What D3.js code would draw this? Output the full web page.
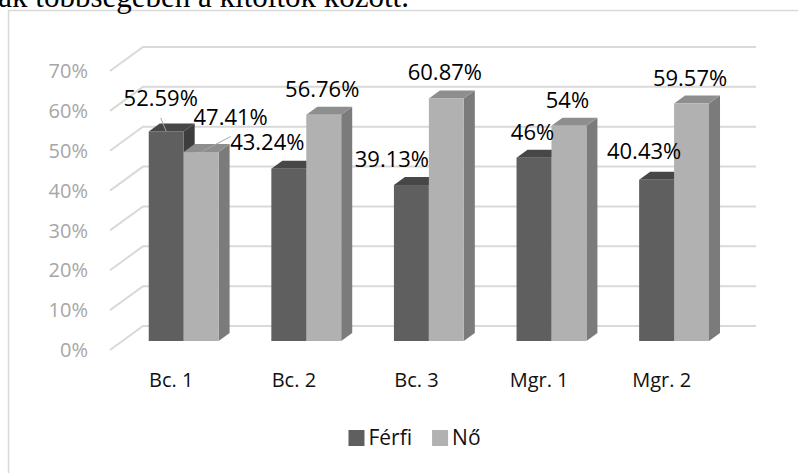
<!DOCTYPE html>
<html>
<head>
<meta charset="utf-8">
<script src="https://cdn.jsdelivr.net/npm/d3@7"></script>
<style>
    body { margin: 0; background: #fff; }
    svg { display: block; font-family: "Open Sans", sans-serif; }
</style>
</head>
<body>
<svg id="chart" width="798" height="473"></svg>
<script>
// ---- data ----
const categories = ["Bc. 1", "Bc. 2", "Bc. 3", "Mgr. 1", "Mgr. 2"];
const seriesNames = ["Férfi", "Nő"];
const ferfiValues = [52.59, 43.24, 39.13, 46, 40.43];
const noValues = [47.41, 56.76, 60.87, 54, 59.57];
const yTicks = [0, 10, 20, 30, 40, 50, 60, 70];
const captionText = "nak többségében a kitöltők között.";

// label nudges (dx, dy, leader line) so labels don't collide, like excel did
const ferfiLabelShift = [[-4, -7, true], [-20, -1], [-18, 0], [0, 0], [-11, -3]];
const noLabelShift = [[31, -9, true], [0, 0], [0, 0], [0, 0], [0, 0]];

const faceColors = {
    "Férfi": { front: "#5f5f5f", top: "#474747", side: "#3d3d3d" },
    "Nő": { front: "#b1b1b1", top: "#8e8e8e", side: "#7b7b7b" }
};

const svg = d3.select("#chart");

// 3d-ish geometry: back wall plus a floor going towards the viewer
const backLeft = 143, backRight = 756;
const floor = { dx: -33, dy: 24 };     // full depth of the floor
const barDepth = { dx: 11, dy: -8 };   // depth of a single bar
const barPos = 0.625;                  // where the bar front sits on the floor

const y = d3.scaleLinear().domain([0, 70]).range([326, 47]);

const x = d3.scaleBand()
    .domain(categories)
    .range([backLeft + floor.dx * barPos, backRight + floor.dx * barPos])
    .paddingInner(0.43)
    .paddingOuter(0.215);

const xs = d3.scaleBand().domain(seriesNames).range([0, x.bandwidth()]);

// outer frame of the chart area
svg.append("path")
    .attr("d", "M8.5,473 V10.5 H798")
    .attr("fill", "none")
    .attr("stroke", "#d9d9d9")
    .attr("stroke-width", 1.5);

// caption text of the page, cut off at the top
svg.append("text")
    .attr("x", 409)
    .attr("y", 7)
    .attr("text-anchor", "end")
    .style("font-family", "'Liberation Serif', serif")
    .style("font-size", "31px")
    .attr("fill", "#000")
    .text(captionText);

// gridlines: side wall diagonal + back wall line
svg.append("g").selectAll("path")
    .data(yTicks)
    .join("path")
    .attr("d", t => `M${backLeft + floor.dx},${y(t) + floor.dy} L${backLeft},${y(t)} L${backRight},${y(t)}`)
    .attr("fill", "none")
    .attr("stroke", "#d9d9d9")
    .attr("stroke-width", 2);

// y axis labels
svg.append("g").selectAll("text")
    .data(yTicks)
    .join("text")
    .attr("x", 88)
    .attr("y", t => y(t) + floor.dy)
    .attr("dy", "0.36em")
    .attr("text-anchor", "end")
    .attr("fill", "#a6a6a6")
    .style("font-size", "20px")
    .text(t => t + "%");

// x axis labels sit on the front edge of the floor
svg.append("g").selectAll("text")
    .data(categories)
    .join("text")
    .attr("x", c => x(c) + x.bandwidth() / 2 + floor.dx * (1 - barPos))
    .attr("y", y(0) + floor.dy + 37)
    .attr("text-anchor", "middle")
    .attr("fill", "#111")
    .style("font-size", "20px")
    .text(c => c);

// build bar records
const bars = [];
categories.forEach((c, i) => {
    bars.push({ cat: c, series: "Férfi", value: ferfiValues[i], shift: ferfiLabelShift[i] });
    bars.push({ cat: c, series: "Nő", value: noValues[i], shift: noLabelShift[i] });
});

const frontDy = floor.dy * barPos;

const barG = svg.append("g").selectAll("g")
    .data(bars)
    .join("g");

// right side face
barG.append("path")
    .attr("fill", d => faceColors[d.series].side)
    .attr("d", d => {
        const xr = x(d.cat) + xs(d.series) + xs.bandwidth();
        const yt = y(d.value) + frontDy, yb = y(0) + frontDy;
        return `M${xr},${yt} L${xr},${yb} L${xr + barDepth.dx},${yb + barDepth.dy} L${xr + barDepth.dx},${yt + barDepth.dy} Z`;
    });

// top face
barG.append("path")
    .attr("fill", d => faceColors[d.series].top)
    .attr("d", d => {
        const xl = x(d.cat) + xs(d.series), xr = xl + xs.bandwidth();
        const yt = y(d.value) + frontDy;
        return `M${xl},${yt} L${xr},${yt} L${xr + barDepth.dx},${yt + barDepth.dy} L${xl + barDepth.dx},${yt + barDepth.dy} Z`;
    });

// front face
barG.append("rect")
    .attr("x", d => x(d.cat) + xs(d.series))
    .attr("y", d => y(d.value) + frontDy)
    .attr("width", xs.bandwidth())
    .attr("height", d => y(0) - y(d.value))
    .attr("fill", d => faceColors[d.series].front);

// data labels
const labelX = d => x(d.cat) + xs(d.series) + xs.bandwidth() / 2 - 1.5 + d.shift[0];
const labelY = d => y(d.value) + frontDy - 18 + d.shift[1];

svg.append("g").selectAll("line")
    .data(bars.filter(d => d.shift[2]))
    .join("line")
    .attr("x1", d => labelX(d))
    .attr("y1", d => labelY(d) + 11.5)
    .attr("x2", d => x(d.cat) + xs(d.series) + xs.bandwidth() / 2)
    .attr("y2", d => y(d.value) + frontDy)
    .attr("stroke", "#a6a6a6")
    .attr("stroke-width", 1);

svg.append("g").selectAll("text")
    .data(bars)
    .join("text")
    .attr("x", labelX)
    .attr("y", labelY)
    .attr("text-anchor", "middle")
    .attr("fill", "#000")
    .style("font-size", "22px")
    .text(d => d.value + "%");

// legend, centred under the chart
const legend = svg.append("g");
let lx = 0;
seriesNames.forEach(s => {
    legend.append("rect")
        .attr("x", lx)
        .attr("y", 430)
        .attr("width", 16)
        .attr("height", 16)
        .attr("fill", faceColors[s].front);
    const t = legend.append("text")
        .attr("x", lx + 20)
        .attr("y", 445)
        .attr("fill", "#111")
        .style("font-size", "21px")
        .text(s);
    lx += 20 + t.node().getComputedTextLength() + 20;
});
const legendWidth = lx - 20;
legend.attr("transform", `translate(${414.5 - legendWidth / 2},0)`);
</script>
</body>
</html>
